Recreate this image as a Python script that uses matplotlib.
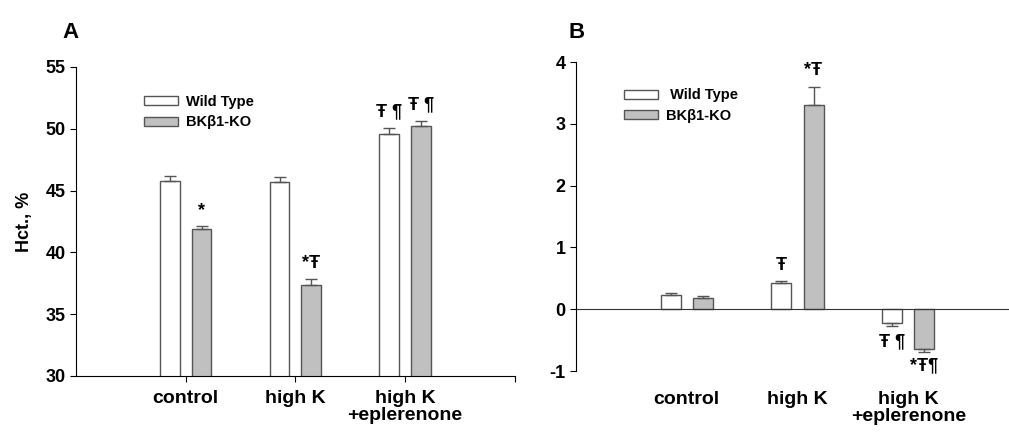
import numpy as np
import matplotlib
matplotlib.use("Agg")
import matplotlib.pyplot as plt
from matplotlib.patches import Patch

plt.rcParams['font.family'] = ['Liberation Sans', 'DejaVu Sans']
plt.rcParams['font.weight'] = 'bold'
plt.rcParams['axes.labelweight'] = 'bold'
plt.rcParams['axes.unicode_minus'] = False

# data
groups = ['control', 'high K', 'high K\n+eplerenone']
series = ['Wild Type', 'BK\u03b21-KO']

hct_wt = [45.8, 45.7, 49.6]
hct_wt_err = [0.35, 0.4, 0.5]
hct_ko = [41.9, 37.4, 50.2]
hct_ko_err = [0.2, 0.43, 0.45]
hct_wt_marks = ['', '', '\u0166 \u00b6']
hct_ko_marks = ['*', '*\u0166', '\u0166 \u00b6']

b_wt = [0.23, 0.42, -0.23]
b_wt_err = [0.03, 0.03, 0.04]
b_ko = [0.18, 3.3, -0.65]
b_ko_err = [0.03, 0.3, 0.05]
b_wt_marks = ['', '\u0166', '\u0166 \u00b6']
b_ko_marks = ['', '*\u0166', '*\u0166\u00b6']

white = 'white'
grey = '#c0c0c0'
edge = '#555555'
off = 0.145
width = 0.18

fig = plt.figure(figsize=(10.09, 4.37), dpi=100)
axA = fig.add_axes([0.0753, 0.1396, 0.435, 0.7071])
axB = fig.add_axes([0.5709, 0.151, 0.4291, 0.707])

x = np.arange(len(groups))


def yerr_dir(vals, errs):
    lo = [e if v < 0 else 0 for v, e in zip(vals, errs)]
    hi = [e if v >= 0 else 0 for v, e in zip(vals, errs)]
    return [lo, hi]


def draw_bars(ax, wt, wt_err, ko, ko_err):
    ekw = dict(ecolor=edge, elinewidth=1, capsize=4, capthick=1)
    ax.bar(x - off, wt, width, color=white, edgecolor=edge, linewidth=1,
           yerr=yerr_dir(wt, wt_err), error_kw=ekw, label=series[0])
    ax.bar(x + off, ko, width, color=grey, edgecolor=edge, linewidth=1,
           yerr=yerr_dir(ko, ko_err), error_kw=ekw, label=series[1])


# panel A
draw_bars(axA, hct_wt, hct_wt_err, hct_ko, hct_ko_err)
axA.set_ylim(30, 55)
axA.set_xlim(-1, 3)
axA.set_yticks([30, 35, 40, 45, 50, 55])
axA.set_xticks([0, 1, 2, 3])
axA.set_xticklabels(groups[:2] + [groups[2], ''], fontsize=14, linespacing=1.0)
axA.tick_params(axis='y', labelsize=13, direction='out', length=4, width=0.8)
axA.tick_params(axis='x', direction='out', length=4, width=0.8, pad=6)
for s in ['top', 'right']:
    axA.spines[s].set_visible(False)
for s in ['left', 'bottom']:
    axA.spines[s].set_linewidth(0.8)
axA.set_ylabel('Hct., %', fontsize=13, labelpad=9)
for i in range(3):
    if hct_wt_marks[i]:
        axA.text(x[i] - off, hct_wt[i] + hct_wt_err[i] + 0.6, hct_wt_marks[i],
                 ha='center', va='bottom', fontsize=13)
    if hct_ko_marks[i]:
        axA.text(x[i] + off, hct_ko[i] + hct_ko_err[i] + 0.6, hct_ko_marks[i],
                 ha='center', va='bottom', fontsize=13)
fig.text(0.062, 0.925, 'A', fontsize=16, ha='left', va='center')

# panel B
draw_bars(axB, b_wt, b_wt_err, b_ko, b_ko_err)
axB.set_ylim(-1, 4)
axB.set_xlim(-1, 2.91)
axB.axhline(0, color='#333333', linewidth=0.8)
axB.set_xticks([])
axB.set_yticks([-1, 0, 1, 2, 3, 4])
axB.tick_params(axis='y', labelsize=13, direction='out', length=4, width=0.8)
for s in ['top', 'right', 'bottom']:
    axB.spines[s].set_visible(False)
axB.spines['left'].set_linewidth(0.8)
for i, g in enumerate(groups):
    axB.text(x[i], -1.32, g, ha='center', va='top', fontsize=14, linespacing=1.0)
for i in range(3):
    v, e = b_wt[i], b_wt_err[i]
    if b_wt_marks[i]:
        if v >= 0:
            axB.text(x[i] - off, v + e + 0.12, b_wt_marks[i], ha='center', va='bottom', fontsize=13)
        else:
            axB.text(x[i] - off, v - e - 0.12, b_wt_marks[i], ha='center', va='top', fontsize=13)
    v, e = b_ko[i], b_ko_err[i]
    if b_ko_marks[i]:
        if v >= 0:
            axB.text(x[i] + off, v + e + 0.12, b_ko_marks[i], ha='center', va='bottom', fontsize=13)
        else:
            axB.text(x[i] + off, v - e - 0.08, b_ko_marks[i], ha='center', va='top', fontsize=13)
fig.text(0.563, 0.925, 'B', fontsize=16, ha='left', va='center')

# legends
handles = [Patch(facecolor=white, edgecolor=edge, linewidth=1),
           Patch(facecolor=grey, edgecolor=edge, linewidth=1)]
leg_kw = dict(loc='upper left', frameon=False, fontsize=10.5, handlelength=2.3,
              handleheight=0.55, handletextpad=0.6, labelspacing=0.45,
              borderaxespad=0, borderpad=0)
axA.legend(handles, series, bbox_to_anchor=(0.155, 0.91), **leg_kw)
axB.legend(handles, [' ' + series[0], series[1]], bbox_to_anchor=(0.111, 0.915), **leg_kw)

fig.savefig('out.png', dpi=100)
